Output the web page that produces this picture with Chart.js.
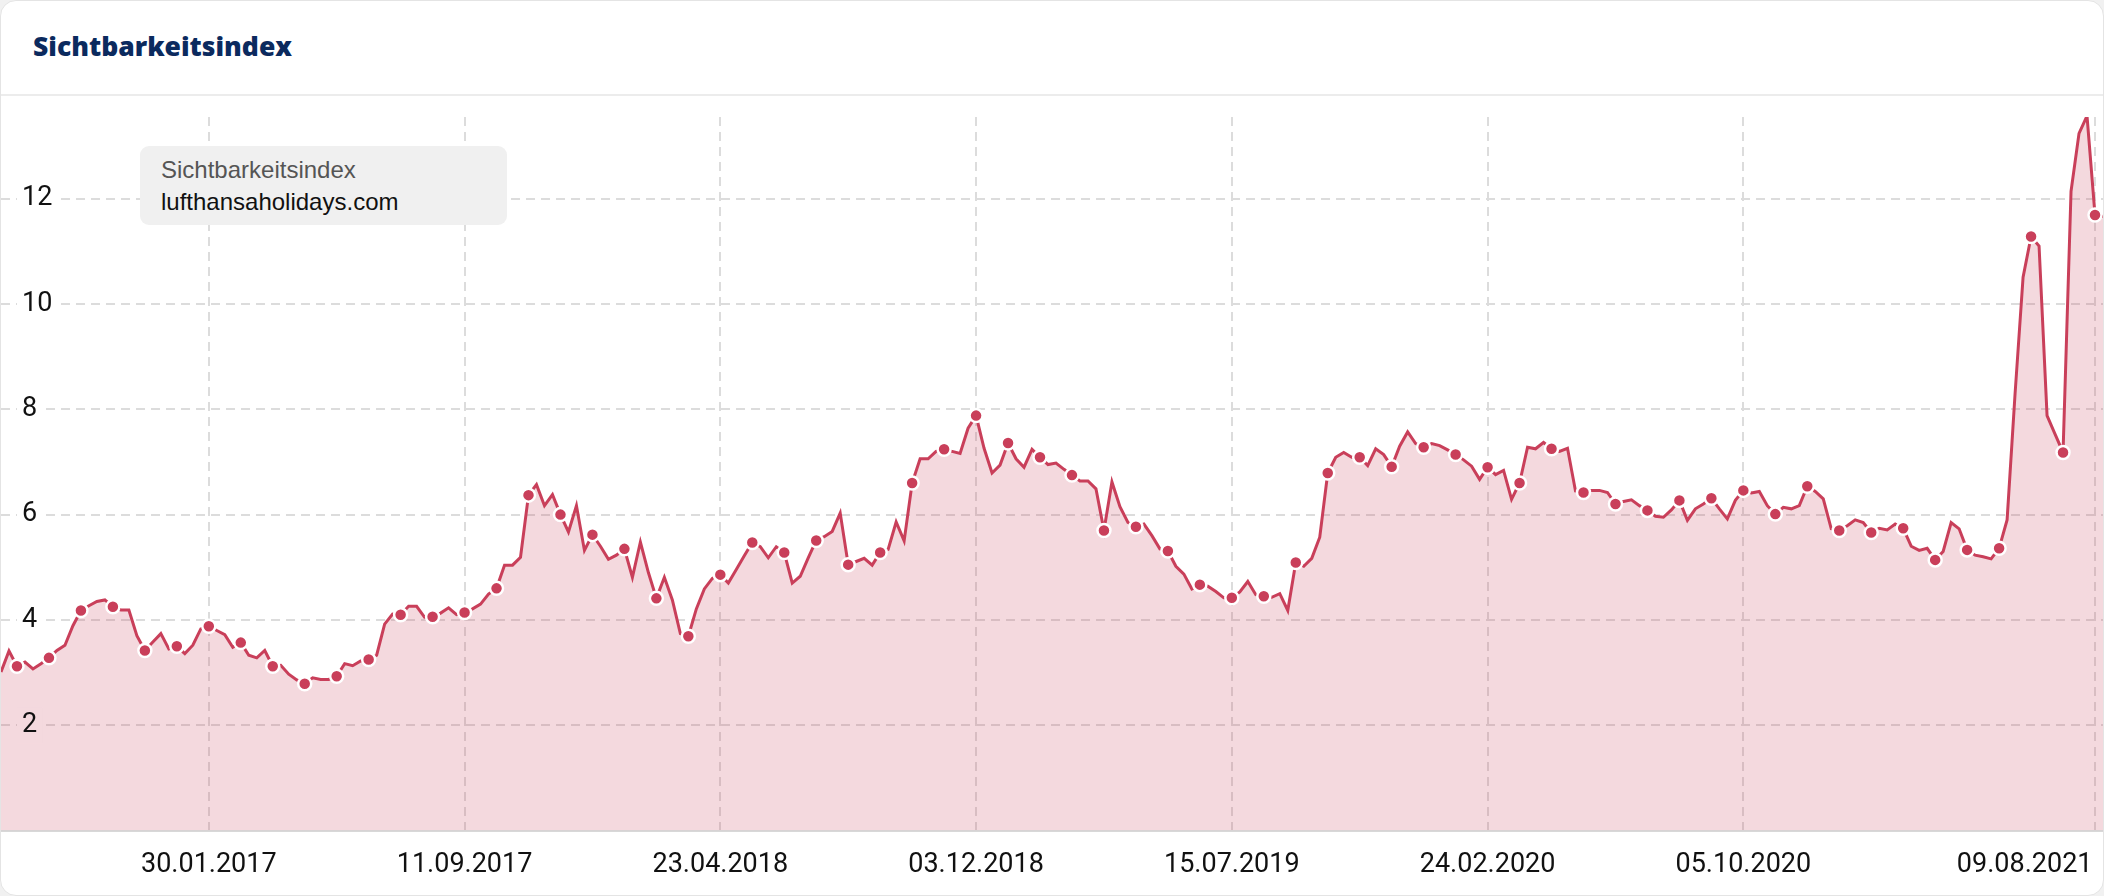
<!DOCTYPE html>
<html lang="de">
<head>
<meta charset="utf-8">
<title>Sichtbarkeitsindex</title>
<script src="https://cdn.jsdelivr.net/npm/chart.js@4.4.1/dist/chart.umd.min.js"></script>
<style>
  html, body { margin: 0; padding: 0; background: #f1f1f1; }
  .card { position: absolute; left: 0; top: 0; width: 2104px; height: 896px; box-sizing: border-box;
          background: #fff; border: 1px solid #e4e4e4; border-radius: 16px; overflow: hidden; }
  .title { position: absolute; left: 32px; top: 29px; font: 800 26.5px 'Open Sans', sans-serif;
           line-height: 32px; color: #0b2a5e; }
  .divider { position: absolute; left: 0; right: 0; top: 93px; height: 2px; background: #ececec; }
  #myChart { position: absolute; left: 0; top: 95px; }
  .legend { position: absolute; left: 139px; top: 145px; width: 367px; height: 79px; box-sizing: border-box;
            padding: 8px 0 0 21px; background: #f0f0f0; border-radius: 9px;
            font: 24px 'Liberation Sans', Arial, sans-serif; line-height: 32px; z-index: 2; }
  .legend .metric { color: #555; }
  .legend .domain { color: #111; }
</style>
</head>
<body>
<div class="card">
  <div class="title">Sichtbarkeitsindex</div>
  <div class="divider"></div>
  <canvas id="myChart" width="2104" height="819"></canvas>
  <div class="legend">
    <div class="metric">Sichtbarkeitsindex</div>
    <div class="domain">lufthansaholidays.com</div>
  </div>
</div>
<script>
// weekly values, first week starts Monday 01.08.2016
var startWeek = Date.UTC(2016, 7, 1);

var tickLabels = ['30.01.2017', '11.09.2017', '23.04.2018', '03.12.2018',
                  '15.07.2019', '24.02.2020', '05.10.2020', '09.08.2021'];

var values2016 = [3.01, 3.41, 3.12, 3.20, 3.07, 3.17, 3.28, 3.42, 3.52, 3.89, 4.18,
                  4.27, 4.35, 4.38, 4.25, 4.19, 4.19, 3.70, 3.42, 3.58, 3.74, 3.45];
var values2017 = [3.50, 3.36, 3.52, 3.83, 3.88, 3.80, 3.72, 3.48, 3.57, 3.33, 3.28, 3.42, 3.12,
                  3.14, 2.97, 2.86, 2.79, 2.90, 2.87, 2.87, 2.93, 3.17, 3.13, 3.22, 3.25, 3.33,
                  3.92, 4.11, 4.10, 4.26, 4.26, 4.05, 4.06, 4.13, 4.23, 4.10, 4.14, 4.21, 4.30,
                  4.49, 4.60, 5.04, 5.04, 5.19, 6.37, 6.57, 6.17, 6.38, 6.00, 5.67, 6.17, 5.32];
var values2018 = [5.62, 5.40, 5.15, 5.23, 5.35, 4.81, 5.48, 4.90, 4.41, 4.81, 4.38, 3.74, 3.69,
                  4.21, 4.59, 4.79, 4.86, 4.70, 4.96, 5.22, 5.47, 5.39, 5.18, 5.39, 5.28, 4.70,
                  4.83, 5.18, 5.51, 5.58, 5.68, 6.03, 5.05, 5.11, 5.17, 5.04, 5.28, 5.34, 5.86,
                  5.50, 6.60, 7.06, 7.06, 7.20, 7.24, 7.20, 7.16, 7.64, 7.88, 7.26, 6.79, 6.94, 7.36];
var values2019 = [7.06, 6.90, 7.24, 7.09, 6.95, 6.98, 6.86, 6.75, 6.64, 6.64, 6.49, 5.70, 6.62,
                  6.15, 5.85, 5.77, 5.82, 5.60, 5.35, 5.31, 5.02, 4.87, 4.59, 4.67, 4.64, 4.54,
                  4.42, 4.42, 4.53, 4.73, 4.48, 4.45, 4.43, 4.50, 4.18, 5.09, 5.02, 5.17, 5.57,
                  6.79, 7.09, 7.18, 7.09, 7.09, 6.93, 7.25, 7.14, 6.91, 7.30, 7.57, 7.35, 7.28];
var values2020 = [7.35, 7.31, 7.23, 7.14, 7.04, 6.92, 6.67, 6.90, 6.76, 6.84, 6.29, 6.60, 7.28,
                  7.25, 7.37, 7.25, 7.20, 7.26, 6.45, 6.42, 6.46, 6.46, 6.42, 6.20, 6.25, 6.28,
                  6.17, 6.08, 5.97, 5.95, 6.09, 6.27, 5.89, 6.11, 6.20, 6.31, 6.11, 5.92, 6.27,
                  6.46, 6.41, 6.44, 6.17, 6.01, 6.14, 6.11, 6.17, 6.54, 6.44, 6.30, 5.73, 5.70];
var values2021 = [5.79, 5.90, 5.85, 5.66, 5.74, 5.71, 5.82, 5.74, 5.40, 5.32, 5.36, 5.14, 5.30,
                  5.85, 5.73, 5.33, 5.23, 5.20, 5.16, 5.36, 5.90, 8.30, 10.51, 11.28, 11.10, 7.88,
                  7.53, 7.18, 12.14, 13.24, 13.57, 11.69, 11.66];

var series = [].concat(values2016, values2017, values2018, values2019, values2020, values2021);

function formatDate(ms) {
    var d = new Date(ms);
    return String(d.getUTCDate()).padStart(2, '0') + '.' +
           String(d.getUTCMonth() + 1).padStart(2, '0') + '.' + d.getUTCFullYear();
}

var weeks = [];
for (var i = 0; i < series.length; i++) {
    weeks.push(formatDate(startWeek + i * 7 * 86400000));
}

var lineColor = '#c93f5a';
var lastTick = tickLabels[tickLabels.length - 1];

function createGraph(xlabels, ylabels) {

    var ctx = document.getElementById('myChart').getContext('2d');

    var myChart = new Chart(ctx, {
        type: 'line',
        data: {
            labels: xlabels,
            datasets: [{
                label: 'Sichtbarkeitsindex',
                data: ylabels,
                borderColor: lineColor,
                borderWidth: 3,
                backgroundColor: 'rgba(201, 63, 90, 0.2)',
                fill: 'origin',
                tension: 0,
                pointRadius: function (c) { return c.dataIndex % 4 === 2 ? 6.5 : 0; },
                pointBackgroundColor: lineColor,
                pointBorderColor: '#ffffff',
                pointBorderWidth: 2.5,
                pointHoverRadius: 0
            }]
        },
        options: {
            responsive: false,
            animation: false,
            devicePixelRatio: 1,
            layout: { padding: { top: 21, right: 2, bottom: 16, left: 0 } },
            plugins: {
                legend: { display: false },
                tooltip: { enabled: false }
            },
            scales: {
                x: {
                    afterFit: function (s) { s.paddingLeft = 0; s.paddingRight = 0; },
                    grid: { color: '#dcdcdc', lineWidth: 2, drawTicks: false },
                    border: { display: true, color: '#d8d8d8', width: 2, dash: [9, 6] },
                    ticks: {
                        autoSkip: false,
                        maxRotation: 0,
                        minRotation: 0,
                        padding: 18,
                        color: '#111',
                        font: { family: 'Roboto', size: 27 },
                        callback: function (value, index) {
                            var label = weeks[index];
                            if (tickLabels.indexOf(label) < 0) return null;
                            // last label is pushed left so it ends at its grid line
                            return label === lastTick ? label + ' '.repeat(21) : label;
                        }
                    }
                },
                y: {
                    min: 0,
                    max: 13.55,
                    afterBuildTicks: function (s) {
                        s.ticks = s.ticks.filter(function (t) { return t.value > 0 && t.value % 2 === 0; });
                    },
                    afterFit: function (s) { s.width = 0; s.paddingTop = 0; s.paddingBottom = 0; },
                    grid: { color: '#dcdcdc', lineWidth: 2, drawTicks: false },
                    border: { display: false, dash: [9, 6] },
                    ticks: {
                        stepSize: 2,
                        mirror: true,
                        padding: 21,
                        z: 1,
                        color: '#111',
                        font: { family: 'Roboto', size: 27 },
                        showLabelBackdrop: true,
                        backdropPadding: { x: 5, y: 2 },
                        backdropColor: function (c) {
                            return c.tick && c.tick.value < 3 ? 'rgb(244, 217, 222)' : '#ffffff';
                        }
                    }
                }
            }
        }
    });

}

createGraph(weeks, series);
</script>
</body>
</html>
